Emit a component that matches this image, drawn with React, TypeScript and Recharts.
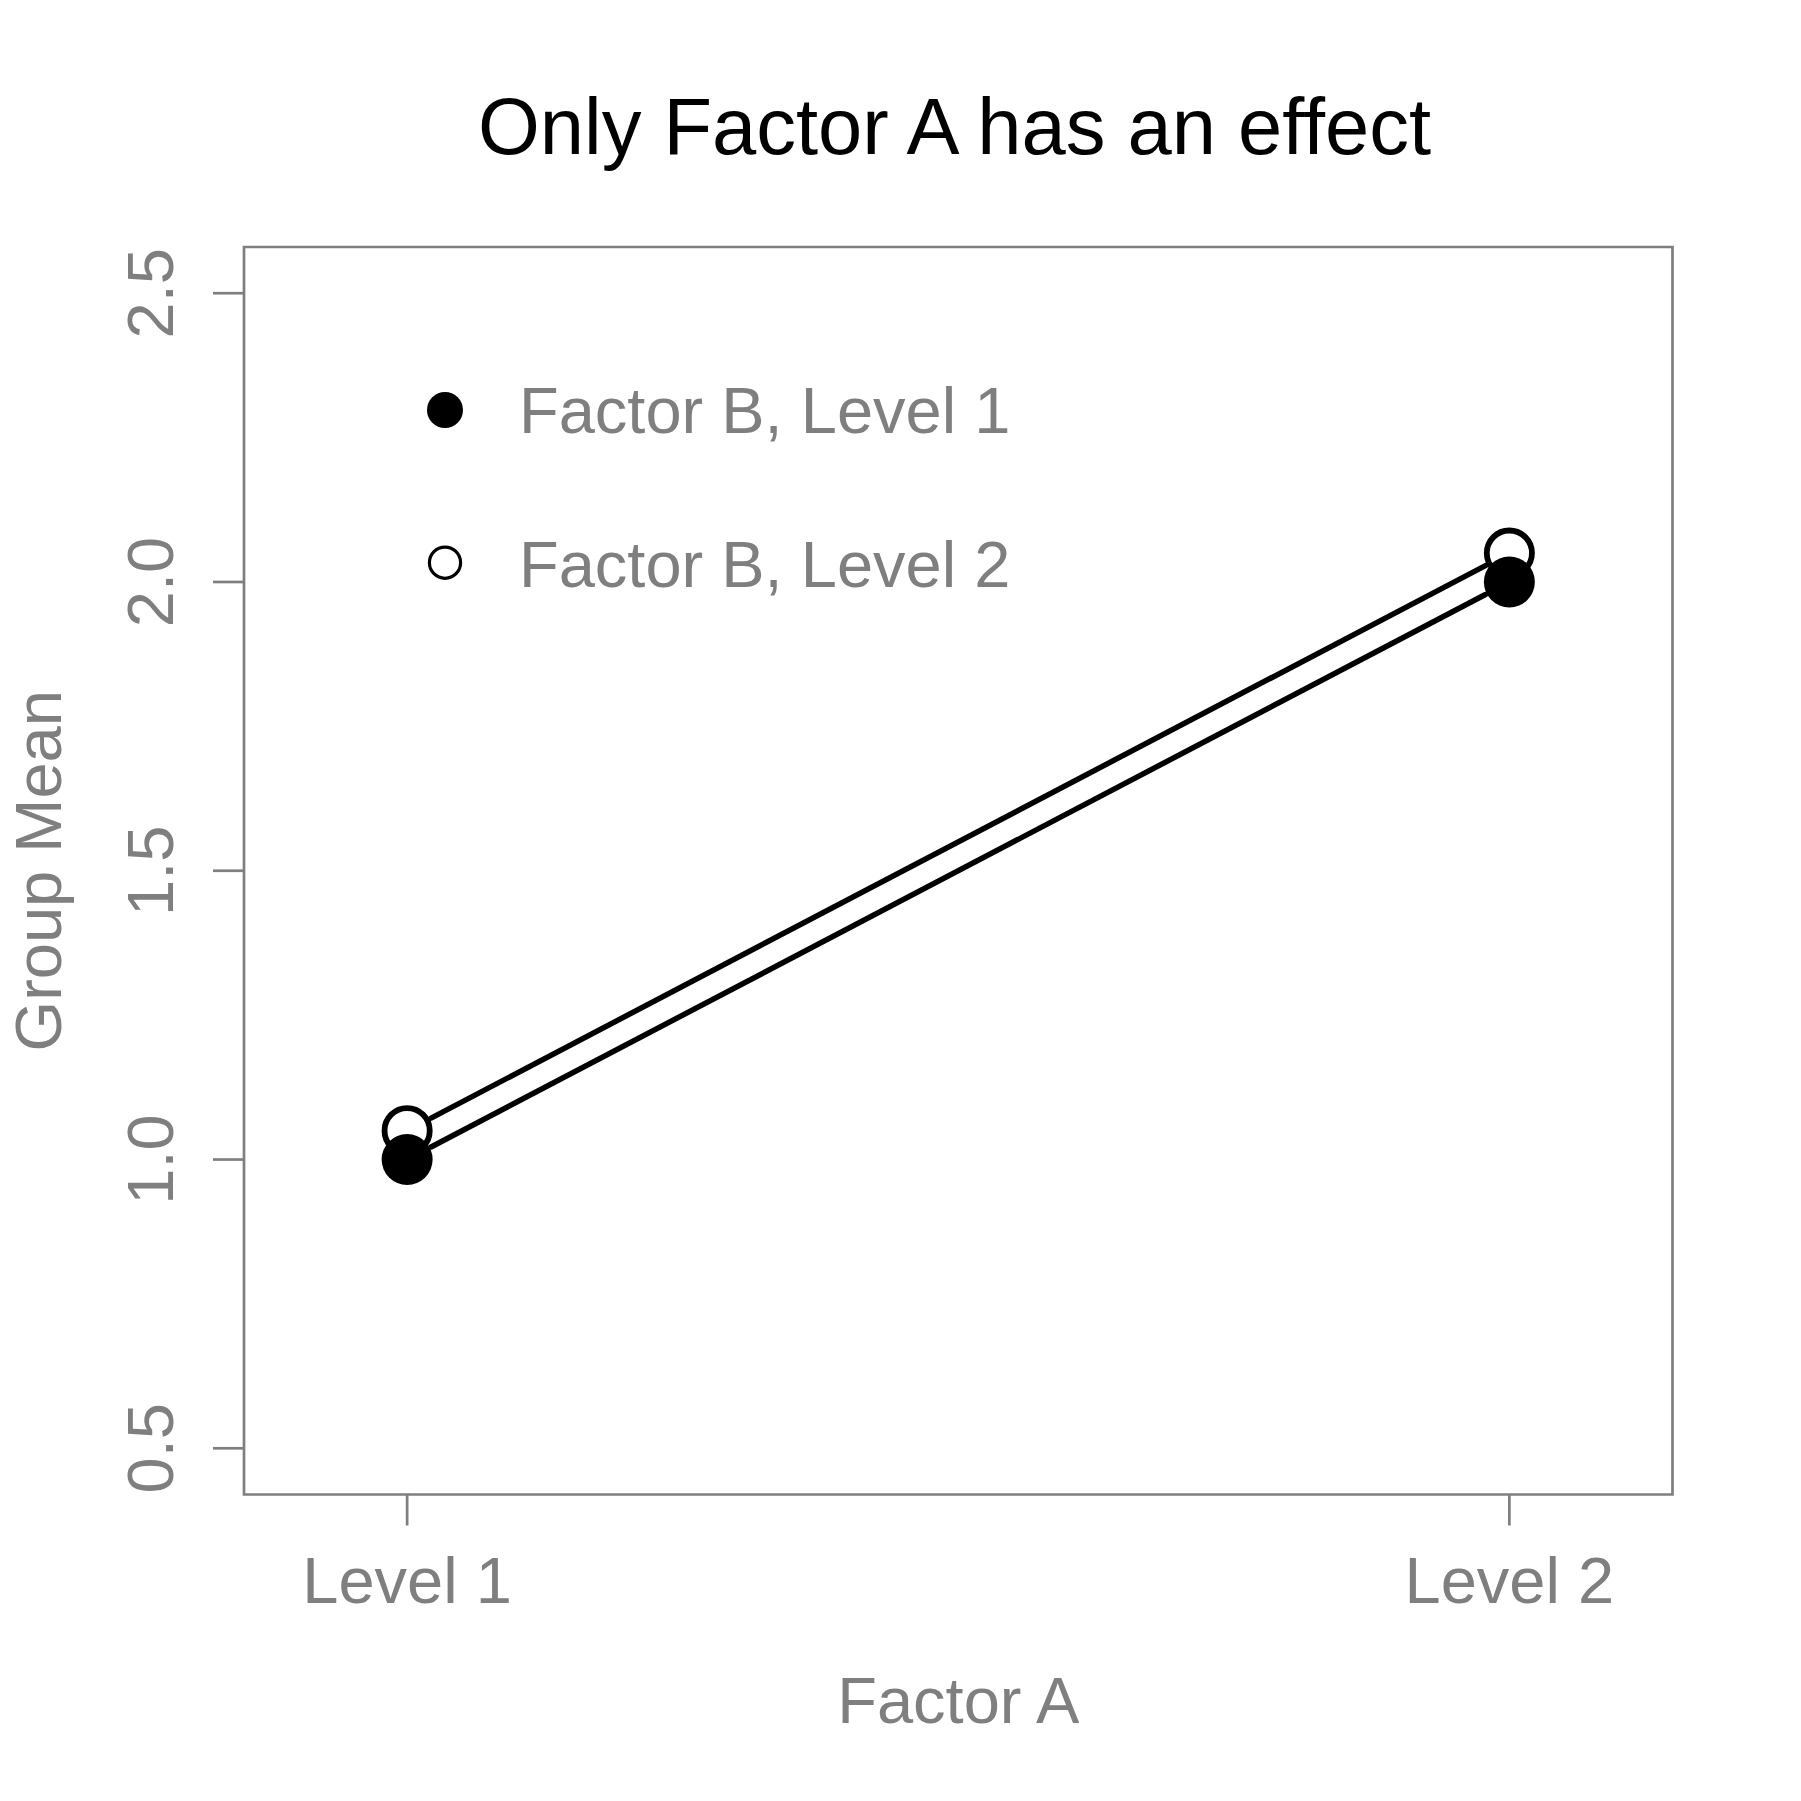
import React from 'react';
import { LineChart, Line, XAxis, YAxis, ReferenceArea, Legend } from 'recharts';

// ---- data ----
const factorALevels = [1, 2];
const factorALabels = ['Level 1', 'Level 2'];
const factorBLevel1Means = [1.0, 2.0];
const factorBLevel2Means = [1.05, 2.05];
const seriesNames = ['Factor B, Level 1', 'Factor B, Level 2'];
const yTicks = [0.5, 1.0, 1.5, 2.0, 2.5];
const titleText = 'Only Factor A has an effect';
const xLabelText = 'Factor A';
const yLabelText = 'Group Mean';

// ---- layout / style ----
const W = 1801;
const H = 1801;
const PLOT = { left: 244, top: 247, right: 1672.5, bottom: 1494.5 };
const X_DOMAIN: [number, number] = [0.852, 2.148];
const Y_DOMAIN: [number, number] = [0.42, 2.58];
const GRAY = '#7f7f7f';
const FONT = '"Liberation Sans", Arial, Helvetica, sans-serif';
const AXIS_FS = 65;
const TITLE_FS = 79.5;
const GAP = 27;
const Y_LABEL_X = 61;

const data = factorALevels.map((a, i) => ({
  a,
  b1: factorBLevel1Means[i],
  b2: factorBLevel2Means[i],
}));

const pxX = (PLOT.right - PLOT.left) / (X_DOMAIN[1] - X_DOMAIN[0]);
const pxY = (PLOT.bottom - PLOT.top) / (Y_DOMAIN[1] - Y_DOMAIN[0]);
const segLen = (vals: number[]) =>
  Math.sqrt(
    Math.pow((factorALevels[1] - factorALevels[0]) * pxX, 2) +
      Math.pow((vals[1] - vals[0]) * pxY, 2)
  );
const dashFor = (vals: number[]) => {
  const L = segLen(vals);
  return { strokeDasharray: `${L - 2 * GAP} ${L + 20}`, strokeDashoffset: -GAP };
};

const YTick = (props: any) => {
  const { x, y, payload } = props;
  return (
    <text
      x={x}
      y={y}
      transform={`rotate(-90 ${x} ${y})`}
      textAnchor="middle"
      fill={GRAY}
      fontSize={AXIS_FS}
      fontFamily={FONT}
    >
      {Number(payload.value).toFixed(1)}
    </text>
  );
};

const XTick = (props: any) => {
  const { x, y, payload } = props;
  const idx = factorALevels.indexOf(payload.value);
  return (
    <text x={x} y={y} textAnchor="middle" fill={GRAY} fontSize={AXIS_FS} fontFamily={FONT}>
      {idx >= 0 ? factorALabels[idx] : ''}
    </text>
  );
};

const FilledDot = (props: any) => {
  const { cx, cy, index } = props;
  return <circle key={`f-${index}`} cx={cx} cy={cy} r={25.5} fill="#000" />;
};

const OpenDot = (props: any) => {
  const { cx, cy, index } = props;
  return (
    <circle key={`o-${index}`} cx={cx} cy={cy} r={22.6} fill="none" stroke="#000" strokeWidth={5.8} />
  );
};

const LegendContent = () => (
  <svg width={620} height={260} style={{ display: 'block' }}>
    <circle cx={45} cy={50} r={18} fill="#000" />
    <text x={119} y={73.3} fill={GRAY} fontSize={AXIS_FS} fontFamily={FONT}>
      {seriesNames[0]}
    </text>
    <circle cx={45} cy={202.7} r={15.6} fill="none" stroke="#000" strokeWidth={3.2} />
    <text x={119} y={226.7} fill={GRAY} fontSize={AXIS_FS} fontFamily={FONT}>
      {seriesNames[1]}
    </text>
  </svg>
);

export default function App() {
  const cx = (PLOT.left + PLOT.right) / 2;
  const cy = (PLOT.top + PLOT.bottom) / 2;
  return (
    <div style={{ position: 'absolute', left: 0, top: 0, width: W, height: H, background: '#fff' }}>
      <LineChart
        width={W}
        height={H}
        data={data}
        margin={{ top: PLOT.top, right: W - PLOT.right, bottom: 0, left: 0 }}
      >
        <XAxis
          dataKey="a"
          type="number"
          domain={X_DOMAIN}
          allowDataOverflow
          ticks={factorALevels}
          interval={0}
          height={H - PLOT.bottom}
          axisLine={false}
          tickLine={{ stroke: GRAY, strokeWidth: 2.7 }}
          tickSize={31}
          tickMargin={77.5}
          tick={<XTick />}
        />
        <YAxis
          type="number"
          domain={Y_DOMAIN}
          allowDataOverflow
          ticks={yTicks}
          interval={0}
          width={PLOT.left}
          axisLine={false}
          tickLine={{ stroke: GRAY, strokeWidth: 2.7 }}
          tickSize={31}
          tickMargin={40}
          tick={<YTick />}
        />
        <ReferenceArea
          x1={X_DOMAIN[0]}
          x2={X_DOMAIN[1]}
          y1={Y_DOMAIN[0]}
          y2={Y_DOMAIN[1]}
          fill="none"
          fillOpacity={0}
          stroke={GRAY}
          strokeWidth={2.7}
          ifOverflow="visible"
        />
        <Legend
          layout="vertical"
          align="center"
          verticalAlign="middle"
          content={<LegendContent />}
          wrapperStyle={{ position: 'absolute', left: 400, top: 360, width: 620, height: 260 }}
        />
        <Line
          dataKey="b2"
          name={seriesNames[1]}
          stroke="#000"
          strokeWidth={5.5}
          strokeLinecap="round"
          {...dashFor(factorBLevel2Means)}
          dot={OpenDot}
          activeDot={false}
          isAnimationActive={false}
        />
        <Line
          dataKey="b1"
          name={seriesNames[0]}
          stroke="#000"
          strokeWidth={5.5}
          strokeLinecap="round"
          {...dashFor(factorBLevel1Means)}
          dot={FilledDot}
          activeDot={false}
          isAnimationActive={false}
        />
        <text x={954.5} y={154} textAnchor="middle" fill="#000" fontSize={TITLE_FS} fontFamily={FONT}>
          {titleText}
        </text>
        <text x={cx} y={1722.7} textAnchor="middle" fill={GRAY} fontSize={AXIS_FS} fontFamily={FONT}>
          {xLabelText}
        </text>
        <text
          x={Y_LABEL_X}
          y={cy}
          transform={`rotate(-90 ${Y_LABEL_X} ${cy})`}
          textAnchor="middle"
          fill={GRAY}
          fontSize={AXIS_FS}
          fontFamily={FONT}
        >
          {yLabelText}
        </text>
      </LineChart>
    </div>
  );
}
